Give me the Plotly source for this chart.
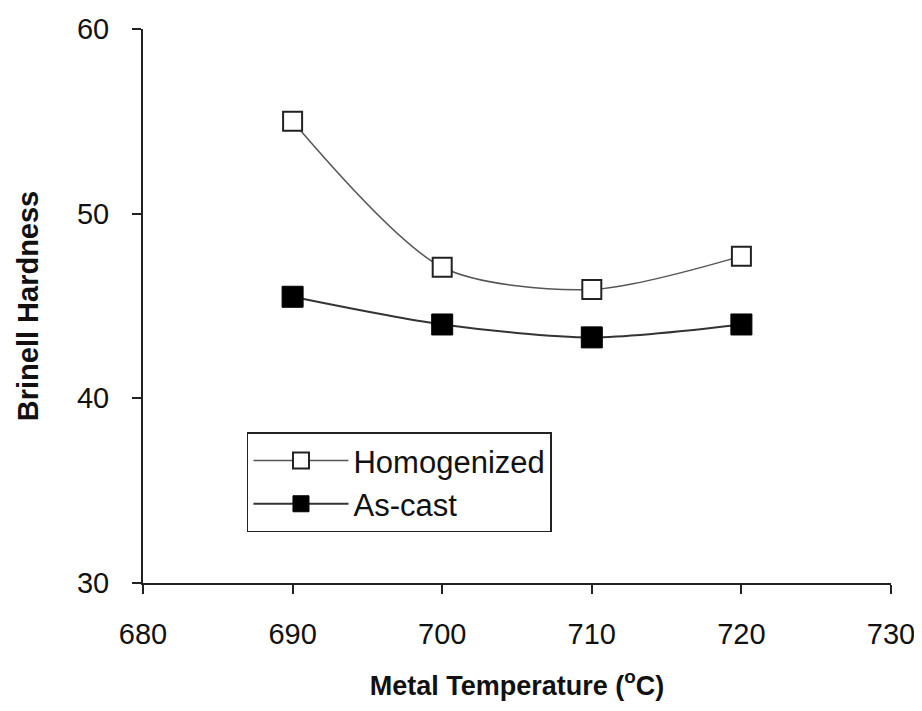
import plotly.graph_objects as go

temps = [690, 700, 710, 720]
homogenized = [55.0, 47.1, 45.9, 47.7]
as_cast = [45.5, 44.0, 43.3, 44.0]

fig = go.Figure()

fig.add_trace(go.Scatter(
    x=temps, y=homogenized, name="Homogenized",
    mode="lines+markers",
    line=dict(color="#555555", width=1.5, shape="spline", smoothing=0.8),
    marker=dict(symbol="square", size=19, color="white",
                line=dict(color="#222222", width=2)),
))
fig.add_trace(go.Scatter(
    x=temps, y=as_cast, name="As-cast",
    mode="lines+markers",
    line=dict(color="#333333", width=2, shape="spline", smoothing=0.8),
    marker=dict(symbol="square", size=21, color="black",
                line=dict(color="black", width=1)),
))

font = "Liberation Sans, Arial, sans-serif"

# the page body adds an 8px offset, so margins are shifted to compensate
fig.update_layout(
    width=922, height=711,
    margin=dict(l=135, r=39, t=21, b=136),
    paper_bgcolor="white", plot_bgcolor="white",
    font=dict(family=font, size=29, color="#111111"),
    showlegend=True,
    legend=dict(
        x=0.139, y=0.272, xanchor="left", yanchor="top",
        bordercolor="#222222", borderwidth=1.5, bgcolor="white",
        font=dict(size=31), itemwidth=95, tracegroupgap=0,
    ),
    xaxis=dict(
        range=[680, 730], tick0=680, dtick=10, automargin=False,
        showline=True, linecolor="#222222", linewidth=2,
        ticks="outside", ticklen=9, tickwidth=2, tickcolor="#222222",
        ticklabelstandoff=15,
        showgrid=False, zeroline=False,
        title=dict(text="<b>Metal Temperature (<sup>o</sup>C)</b>",
                   font=dict(size=27), standoff=27),
    ),
    yaxis=dict(
        range=[30, 60], tick0=30, dtick=10, automargin=False,
        showline=True, linecolor="#222222", linewidth=2,
        ticks="outside", ticklen=9, tickwidth=2, tickcolor="#222222",
        ticklabelstandoff=17,
        showgrid=False, zeroline=False,
        title=dict(text="<b>Brinell Hardness</b>", font=dict(size=29), standoff=30),
    ),
)

fig.write_html("out.html")
